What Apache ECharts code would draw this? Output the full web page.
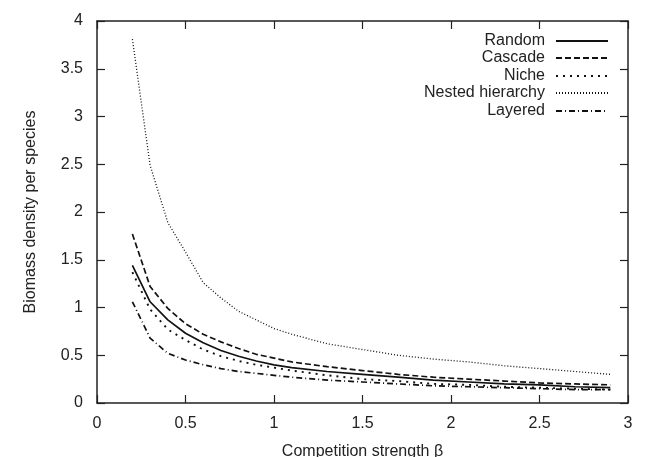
<!DOCTYPE html>
<html><head><meta charset="utf-8">
<script src="https://cdn.jsdelivr.net/npm/echarts@6/dist/echarts.min.js"></script>
<style>html,body{margin:0;padding:0;background:#fff}#c{width:646px;height:457px}</style>
</head><body><div id="c"></div>
<script>
const beta = [0.2,0.3,0.4,0.5,0.6,0.7,0.8,0.9,1.0,1.1,1.3,1.5,1.7,1.9,2.1,2.3,2.5,2.7,2.9];
const randomVals  = [1.44,1.06,0.87,0.73,0.63,0.55,0.49,0.44,0.40,0.37,0.33,0.30,0.27,0.24,0.22,0.20,0.19,0.17,0.16];
const cascadeVals = [1.77,1.22,0.99,0.83,0.72,0.64,0.57,0.51,0.47,0.43,0.38,0.34,0.30,0.27,0.25,0.23,0.21,0.20,0.19];
const nicheVals   = [1.37,0.98,0.77,0.66,0.56,0.49,0.44,0.40,0.37,0.34,0.29,0.25,0.23,0.20,0.19,0.17,0.16,0.15,0.14];
const nestedVals  = [3.81,2.49,1.89,1.58,1.26,1.10,0.96,0.87,0.78,0.72,0.62,0.56,0.50,0.46,0.43,0.39,0.36,0.33,0.30];
const layeredVals = [1.06,0.68,0.52,0.45,0.40,0.36,0.33,0.31,0.29,0.27,0.24,0.22,0.20,0.18,0.17,0.16,0.15,0.14,0.14];
const seriesNames = ['Random','Cascade','Niche','Nested hierarchy','Layered'];
const seriesVals = [randomVals,cascadeVals,nicheVals,nestedVals,layeredVals];
const dashes = ['solid',[6,3],[2,5],[1,2],[6,3,1,3]];
const widths = [1.7,1.7,1.9,1.3,1.7];

const FONT = 'Liberation Sans, Arial, sans-serif';
const chart = echarts.init(document.getElementById('c'), null, {renderer:'canvas'});
const series = seriesNames.map((n,i)=>({
  name:n, type:'line', showSymbol:false, symbol:'none', animation:false,
  data: beta.map((x,j)=>[x, seriesVals[i][j]]),
  lineStyle:{color:'#111', width:widths[i], type:dashes[i]},
  itemStyle:{color:'#111'}
}));
const legendTops = [33,50,68,85,103];
const legends = seriesNames.map((n,i)=>({
  data:[n], orient:'vertical', align:'right', right:37, top:legendTops[i],
  itemWidth:52, itemHeight:14, itemGap:2, padding:0,
  itemStyle:{color:'rgba(0,0,0,0)', borderColor:'rgba(0,0,0,0)', borderWidth:0, opacity:0},
  textStyle:{fontFamily:FONT, fontSize:16, color:'#222', padding:[0,6,0,0]},
  selectedMode:false
}));
const axisCommon = {
  axisLine:{show:true, onZero:false, lineStyle:{color:'#222', width:1.5}},
  axisTick:{show:true, inside:true, length:8, lineStyle:{color:'#222', width:1.2}},
  splitLine:{show:false}
};
chart.setOption({
  backgroundColor:'#fff',
  animation:false,
  grid:{left:97, right:18, top:21, bottom:54, containLabel:false, outerBoundsMode:'none'},
  legend: legends,
  xAxis:[
    Object.assign({type:'value', min:0, max:3, interval:0.5, position:'bottom',
      name:'Competition strength β', nameLocation:'middle', nameGap:41,
      nameTextStyle:{fontFamily:FONT, fontSize:16, color:'#222'},
      axisLabel:{fontFamily:FONT, fontSize:16, color:'#222', margin:13}}, axisCommon),
    Object.assign({type:'value', min:0, max:3, interval:0.5, position:'top',
      axisLabel:{show:false}}, axisCommon)
  ],
  yAxis:[
    Object.assign({type:'value', min:0, max:4, interval:0.5, position:'left',
      name:'Biomass density per species', nameLocation:'middle', nameGap:58,
      nameTextStyle:{fontFamily:FONT, fontSize:16, color:'#222'},
      axisLabel:{fontFamily:FONT, fontSize:16, color:'#222', margin:14}}, axisCommon),
    Object.assign({type:'value', min:0, max:4, interval:0.5, position:'right',
      axisLabel:{show:false}}, axisCommon)
  ],
  series: series
});
</script></body></html>
